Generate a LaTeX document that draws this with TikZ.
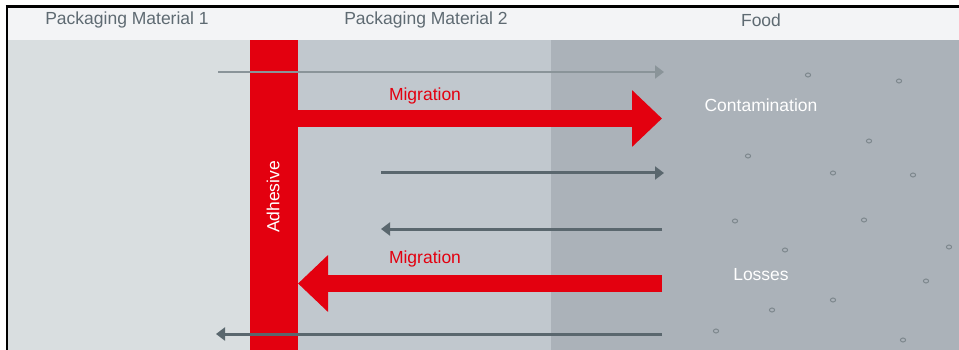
\documentclass[tikz,border=0pt]{standalone}
\usepackage{fontspec}
\setmainfont{Liberation Sans}
\usetikzlibrary{arrows.meta}
\definecolor{hdrbg}{HTML}{F3F4F6}
\definecolor{pmone}{HTML}{D9DEE0}
\definecolor{pmtwo}{HTML}{C1C8CE}
\definecolor{foodbg}{HTML}{ABB2B9}
\definecolor{adred}{HTML}{E3000F}
\definecolor{darkline}{HTML}{5A676E}
\definecolor{lightline}{HTML}{8A9499}
\definecolor{hdrtext}{HTML}{5E6A72}
\definecolor{dotcol}{HTML}{7E888E}
\tikzset{
  hdr/.style={text=hdrtext, font=\fontsize{17.5}{20}\selectfont, inner sep=0pt},
  lbl/.style={font=\fontsize{17.5}{20}\selectfont, inner sep=0pt},
  thinarrow/.style={draw=darkline, line width=3pt, -{Triangle[length=9pt,width=13pt]}},
  thinarrowlight/.style={draw=lightline, line width=2.8pt, -{Triangle[length=9pt,width=13pt]}},
  bigarrow/.style={draw=adred, line width=17pt, -{Triangle[length=30pt,width=55pt]}},
  dot/.style={draw=dotcol, line width=1pt},
}
\begin{document}
\begin{tikzpicture}[x=1pt,y=-1pt]
\useasboundingbox (0,0) rectangle (959,350);
\fill[white] (0,0) rectangle (959,350);
% header and columns
\fill[hdrbg] (8,8) rectangle (959,40);
\fill[pmone] (8,40) rectangle (250,350);
\fill[pmtwo] (298,40) rectangle (551,350);
\fill[foodbg] (551,40) rectangle (959,350);
% frame
\draw[black, line width=2.6pt] (5.5,6.5) -- (959,6.5);
\draw[black, line width=2pt] (7,5.5) -- (7,350);
% adhesive
\node[fill=adred, minimum width=48pt, minimum height=310pt, inner sep=0pt, anchor=north west] (adh) at (250,40) {};
\node[lbl, text=white, rotate=90] (adhl) at (273,197) {Adhesive};
% header texts
\node[hdr] (h1) at (127,20) {Packaging Material 1};
\node[hdr] (h2) at (426,20) {Packaging Material 2};
\node[hdr] (h3) at (761,20) {Food};
% coordinates for arrows
\coordinate (a1s) at (218,72);
\coordinate (a1e) at (664,72);
\coordinate (m1s) at (298,118.5);
\coordinate (m1e) at (662,118.5);
\coordinate (a3s) at (381,173);
\coordinate (a3e) at (664,173);
\coordinate (a4s) at (662,229);
\coordinate (a4e) at (381,229);
\coordinate (m2s) at (662,283.5);
\coordinate (m2e) at (298,283.5);
\coordinate (a6s) at (662,334);
\coordinate (a6e) at (216,334);
% arrows
\draw[thinarrowlight] (a1s) -- (a1e);
\draw[bigarrow] (m1s) -- (m1e);
\draw[thinarrow] (a3s) -- (a3e);
\draw[thinarrow] (a4s) -- (a4e);
\draw[bigarrow] (m2s) -- (m2e);
\draw[thinarrow] (a6s) -- (a6e);
% labels
\node[lbl, text=adred] (mig1) at (425,96) {Migration};
\node[lbl, text=adred] (mig2) at (425,259) {Migration};
\node[lbl, text=white] (cont) at (761,105) {Contamination};
\node[lbl, text=white] (loss) at (761,275) {Losses};
% particles
\foreach \px/\py in {808/75, 899/81, 869/141, 748/156, 833/173, 913/175, 735/221, 864/220, 785/250, 949/247, 926/281, 833/300, 772/310, 716/331, 903/340}
  \draw[dot] (\px,\py) ellipse [x radius=2.6pt, y radius=2pt];
\end{tikzpicture}
\end{document}
